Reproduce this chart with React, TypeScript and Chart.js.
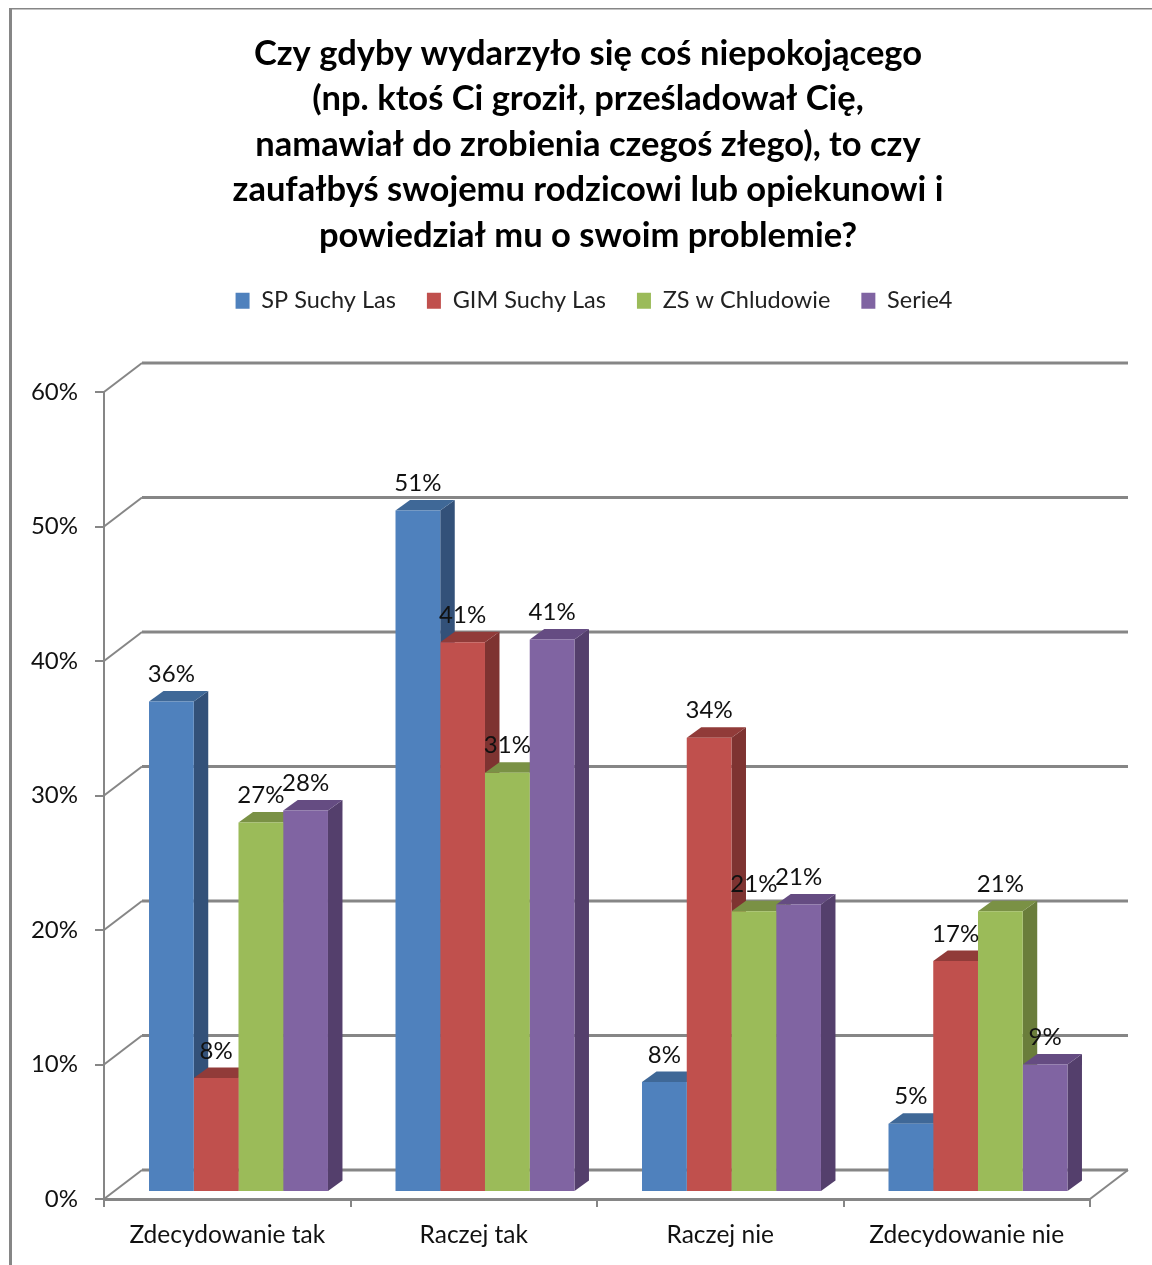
import React, { useEffect, useRef } from "react";
import { Chart, registerables } from "chart.js";

Chart.register(...registerables);

const categories = ["Zdecydowanie tak", "Raczej tak", "Raczej nie", "Zdecydowanie nie"];
const spSuchyLas = [36.4, 50.6, 8.1, 5.0];
const gimSuchyLas = [8.4, 40.8, 33.7, 17.1];
const zsChludowo = [27.4, 31.1, 20.8, 20.8];
const serie4 = [28.3, 41.0, 21.3, 9.4];
const seriesNames = ["SP Suchy Las", "GIM Suchy Las", "ZS w Chludowie", "Serie4"];
const frontColors = ["#4F81BD", "#C0504D", "#9BBB59", "#8064A2"];
const topColors = ["#3F6897", "#913B39", "#7A9145", "#654C82"];
const sideColors = ["#335179", "#7E3331", "#6A7D3B", "#543F6C"];
const titleLines = [
  "Czy gdyby wydarzyło się coś niepokojącego",
  "(np. ktoś Ci groził, prześladował Cię,",
  "namawiał do zrobienia czegoś złego), to czy",
  "zaufałbyś swojemu rodzicowi lub opiekunowi i",
  "powiedział mu o swoim problemie?",
];

const FONT = "Lato, Carlito, sans-serif";
const GREY = "#868686";
const DEPTH_X = 14.5;
const DEPTH_Y = 10.5;
const WALL_X = 38;
const WALL_Y = 29;

const framePlugin = {
  id: "frame",
  beforeDraw(chart: any) {
    const { ctx, width, height } = chart;
    ctx.save();
    ctx.fillStyle = "#ffffff";
    ctx.fillRect(0, 0, width, height);
    ctx.fillStyle = GREY;
    ctx.fillRect(9, 8, 3, height - 8);
    ctx.fillRect(9, 8, width - 9, 1.5);
    ctx.restore();
  },
  afterLayout(chart: any) {
    const l = chart.legend;
    if (l) {
      const h = l.height;
      l.left += 49;
      l.right += 49;
      l.top = 258;
      l.bottom = 258 + h;
    }
    const t = chart.titleBlock;
    if (t) {
      t.left += 43;
      t.right += 43;
    }
  },
};

const wallsPlugin = {
  id: "walls",
  beforeDatasetsDraw(chart: any) {
    const { ctx, chartArea } = chart;
    const y = chart.scales.y;
    ctx.save();
    ctx.strokeStyle = GREY;
    for (const tick of y.ticks) {
      const py = y.getPixelForValue(tick.value);
      ctx.lineWidth = 2;
      ctx.beginPath();
      ctx.moveTo(chartArea.left, py);
      ctx.lineTo(chartArea.left + WALL_X, py - WALL_Y);
      ctx.stroke();
      ctx.lineWidth = 3;
      ctx.beginPath();
      ctx.moveTo(chartArea.left + WALL_X, py - WALL_Y);
      ctx.lineTo(chartArea.right + WALL_X, py - WALL_Y);
      ctx.stroke();
    }
    const p0 = y.getPixelForValue(0);
    ctx.lineWidth = 2;
    ctx.beginPath();
    ctx.moveTo(chartArea.right, p0);
    ctx.lineTo(chartArea.right + WALL_X, p0 - WALL_Y);
    ctx.stroke();
    ctx.restore();
  },
};

const depthPlugin = {
  id: "depth",
  beforeDatasetsDraw(chart: any) {
    const { ctx } = chart;
    const poly = (color: string, pts: number[][]) => {
      ctx.fillStyle = color;
      ctx.beginPath();
      pts.forEach(([a, b], k) => (k ? ctx.lineTo(a, b) : ctx.moveTo(a, b)));
      ctx.closePath();
      ctx.fill();
    };
    ctx.save();
    categories.forEach((_, i) => {
      chart.data.datasets.forEach((_d: any, j: number) => {
        const el = chart.getDatasetMeta(j).data[i];
        const left = el.x - el.width / 2;
        const right = el.x + el.width / 2;
        poly(sideColors[j], [
          [right, el.y],
          [right + DEPTH_X, el.y - DEPTH_Y],
          [right + DEPTH_X, el.base - DEPTH_Y],
          [right, el.base],
        ]);
        poly(topColors[j], [
          [left, el.y],
          [left + DEPTH_X, el.y - DEPTH_Y],
          [right + DEPTH_X, el.y - DEPTH_Y],
          [right, el.y],
        ]);
      });
    });
    ctx.restore();
  },
  afterDatasetsDraw(chart: any) {
    const { ctx } = chart;
    ctx.save();
    ctx.font = `24px ${FONT}`;
    ctx.fillStyle = "#111111";
    ctx.textAlign = "center";
    ctx.textBaseline = "middle";
    chart.data.datasets.forEach((d: any, j: number) => {
      chart.getDatasetMeta(j).data.forEach((el: any, i: number) => {
        ctx.fillText(`${Math.round(d.data[i].y)}%`, el.x, el.y - 27);
      });
    });
    ctx.restore();
  },
};

const allSeries = [spSuchyLas, gimSuchyLas, zsChludowo, serie4];

export default function App() {
  const ref = useRef<HTMLCanvasElement | null>(null);
  useEffect(() => {
    const chart = new Chart(ref.current as HTMLCanvasElement, {
      type: "bar",
      data: {
        labels: categories,
        datasets: allSeries.map((values, j) => ({
          label: seriesNames[j],
          data: values.map((y, x) => ({ x, y })),
          backgroundColor: frontColors[j],
          borderWidth: 0,
          xAxisID: "xBar",
          yAxisID: "yBar",
          categoryPercentage: 0.726,
          barPercentage: 1,
        })),
      } as any,
      options: {
        animation: false,
        responsive: false,
        layout: { padding: { left: 0, right: 62, top: 0, bottom: 0 } },
        scales: {
          xBar: {
            type: "linear",
            axis: "x",
            display: false,
            offset: false,
            bounds: "data",
            min: -0.5456,
            max: 3.4544,
            ticks: { stepSize: 1, includeBounds: false },
          },
          yBar: { type: "linear", axis: "y", display: false, min: -0.594, max: 59.406 },
          x: {
            type: "category",
            position: "bottom",
            offset: true,
            afterFit: (s: any) => { s.height = 66; },
            border: { color: GREY, width: 3 },
            grid: { drawOnChartArea: false, drawTicks: true, tickLength: 8, offset: true, color: GREY, lineWidth: 2 },
            ticks: { font: { family: FONT, size: 24.5 }, color: "#111111", padding: 13, autoSkip: false, maxRotation: 0 },
          },
          y: {
            type: "linear",
            position: "left",
            min: 0,
            max: 60,
            afterFit: (s: any) => { s.width = 104; },
            border: { color: GREY, width: 2 },
            grid: { drawOnChartArea: false, drawTicks: true, tickLength: 9, color: GREY, lineWidth: 2 },
            ticks: {
              stepSize: 10,
              font: { family: FONT, size: 24 },
              color: "#111111",
              padding: 17,
              callback: (v: any) => `${v}%`,
            },
          },
        },
        plugins: {
          title: {
            display: true,
            text: titleLines,
            color: "#000000",
            font: { family: FONT, size: 34.5, weight: "bold", lineHeight: "45.5px" },
            padding: { top: 31, bottom: 69 },
          },
          legend: {
            display: true,
            position: "top",
            labels: {
              boxWidth: 14,
              boxHeight: 16,
              padding: 31,
              color: "#222222",
              font: { family: FONT, size: 23.5 },
            },
          },
          tooltip: { enabled: false },
        },
      } as any,
      plugins: [framePlugin, wallsPlugin, depthPlugin],
    });
    return () => chart.destroy();
  }, []);
  return (
    <div style={{ position: "absolute", left: 0, top: 0, width: 1152, height: 1265 }}>
      <canvas ref={ref} width={1152} height={1265} style={{ display: "block" }} />
    </div>
  );
}
